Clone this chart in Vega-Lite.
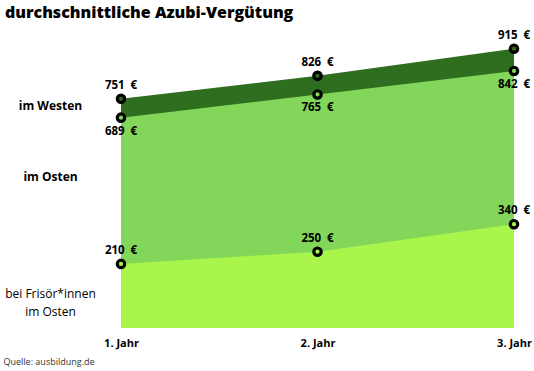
{
  "$schema": "https://vega.github.io/schema/vega-lite/v6.json",
  "width": 393,
  "height": 290,
  "autosize": "none",
  "padding": {"left": 121, "top": 38, "right": 20, "bottom": 43},
  "background": "white",
  "config": {"view": {"stroke": null}, "font": "Open Sans"},
  "title": {
    "text": "durchschnittliche Azubi-Vergütung",
    "anchor": "start",
    "frame": "group",
    "dx": -116,
    "offset": 9,
    "fontSize": 16,
    "font": "Open Sans",
    "fontWeight": 800,
    "color": "black"
  },
  "data": {
    "values": [
      {"year": "1. Jahr", "series": "West", "value": 751},
      {"year": "2. Jahr", "series": "West", "value": 826},
      {"year": "3. Jahr", "series": "West", "value": 915},
      {"year": "1. Jahr", "series": "Ost", "value": 689},
      {"year": "2. Jahr", "series": "Ost", "value": 765},
      {"year": "3. Jahr", "series": "Ost", "value": 842},
      {"year": "1. Jahr", "series": "Frisör", "value": 210},
      {"year": "2. Jahr", "series": "Frisör", "value": 250},
      {"year": "3. Jahr", "series": "Frisör", "value": 340}
    ]
  },
  "transform": [{"calculate": "datum.value + '\u2002€'", "as": "label"}],
  "encoding": {
    "x": {
      "field": "year",
      "type": "ordinal",
      "scale": {"type": "point", "padding": 0},
      "axis": {
        "orient": "bottom",
        "domain": false,
        "ticks": false,
        "labelAngle": 0,
        "labelFontSize": 11,
        "labelFontWeight": "bold",
        "labelColor": "black",
        "labelPadding": 9,
        "labelFlush": false,
        "labelBound": false,
        "labelOverlap": false,
        "title": "Quelle: ausbildung.de",
        "titleX": -118,
        "titleY": 38,
        "titleAlign": "left",
        "titleAnchor": null,
        "titleBaseline": "bottom",
        "titleFontSize": 9,
        "titleFontWeight": "normal",
        "titleColor": "#333333"
      }
    },
    "y": {
      "field": "value",
      "type": "quantitative",
      "scale": {"domain": [0, 950], "nice": false},
      "axis": {
        "values": [114, 495, 730],
        "labelExpr": "datum.value > 600 ? 'im Westen' : (datum.value > 300 ? 'im Osten' : ['bei Frisör*innen', 'im Osten'])",
        "labelAlign": "center",
        "labelBaseline": "middle",
        "labelPadding": 71,
        "labelFontSize": 12,
        "labelLineHeight": 18,
        "labelColor": "black",
        "labelFontWeight": {"condition": {"test": "datum.value < 200", "value": "normal"}, "value": "bold"},
        "labelOverlap": false,
        "labelBound": false,
        "ticks": false,
        "domain": false,
        "grid": false,
        "title": null
      }
    }
  },
  "layer": [
    {
      "transform": [{"filter": "datum.series === 'West'"}],
      "mark": {"type": "area", "color": "#2f6d1f", "opacity": 1}
    },
    {
      "transform": [{"filter": "datum.series === 'Ost'"}],
      "mark": {"type": "area", "color": "#82d659", "opacity": 1}
    },
    {
      "transform": [{"filter": "datum.series === 'Frisör'"}],
      "mark": {"type": "area", "color": "#a9f54b", "opacity": 1}
    },
    {
      "mark": {"type": "point", "shape": "circle", "filled": true, "size": 55, "stroke": "black", "strokeWidth": 3.2, "opacity": 1},
      "encoding": {
        "fill": {
          "field": "series",
          "type": "nominal",
          "scale": {"domain": ["West", "Ost", "Frisör"], "range": ["#2f6d1f", "#82d659", "#a9f54b"]},
          "legend": null
        }
      }
    },
    {
      "transform": [{"filter": "datum.series !== 'Ost'"}],
      "mark": {"type": "text", "dy": -13, "fontSize": 11.5, "fontWeight": "bold", "color": "black", "align": "center", "baseline": "middle"},
      "encoding": {"text": {"field": "label"}}
    },
    {
      "transform": [{"filter": "datum.series === 'Ost'"}],
      "mark": {"type": "text", "dy": 14, "fontSize": 11.5, "fontWeight": "bold", "color": "black", "align": "center", "baseline": "middle"},
      "encoding": {"text": {"field": "label"}}
    }
  ]
}
